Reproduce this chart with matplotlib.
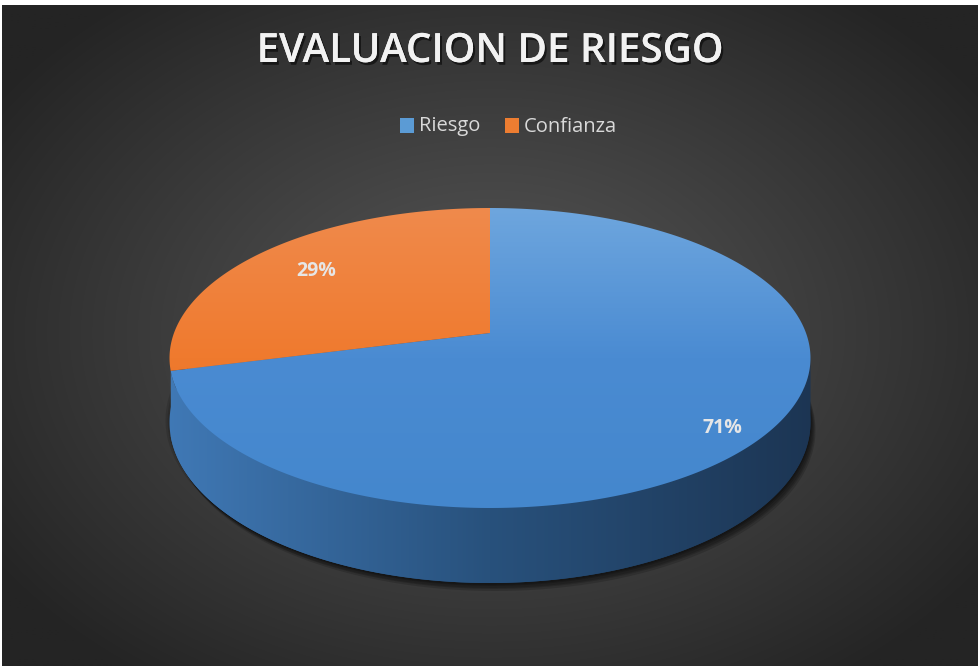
import numpy as np
import matplotlib
matplotlib.use('Agg')
import matplotlib.pyplot as plt
from matplotlib.patches import Polygon, Rectangle
import matplotlib.patheffects as pe
from matplotlib.colors import to_rgb

# ---------------- data ----------------
categories = ['Riesgo', 'Confianza']
values = [71, 29]
pct_labels = ['71%', '29%']
title_text = 'EVALUACION DE RIESGO'

# ---------------- style ----------------
top_colors = [['#6ea6de', '#4a8bd2', '#4487cd'], ['#f08a4c', '#ef7a2e', '#e6691c']]
side_colors = [['#4079b6', '#28517c', '#1c3553'], ['#c8601e', '#a04c15', '#8a3f10']]
legend_colors = ['#5b9bd5', '#ed7d31']
W, H = 979, 666
CX, CY = 490.0, 333.0
A, C, K, D0 = 90.33, -1.0 / 6.0, 316.0, 62.5

fig = plt.figure(figsize=(W / 100, H / 100), dpi=100)
fig.patch.set_facecolor('white')
ax = fig.add_axes([0, 0, 1, 1])
ax.axis('off')

# background radial gradient
yy, xx = np.mgrid[0:H, 0:W]
r = np.sqrt(((xx - 490) / 600.0) ** 2 + ((yy - 330) / 430.0) ** 2)
f = np.clip(r, 0, 1)[..., None] ** 1.1
c_in = np.array(to_rgb('#565656'))
c_out = np.array(to_rgb('#242424'))
bg = c_in * (1 - f) + c_out * f
ax.imshow(bg, extent=(2, W, H, 5), zorder=0, interpolation='bilinear', aspect='auto')


def proj(theta_deg, rr=1.0, drop=0.0):
    th = np.radians(theta_deg)
    u = rr * np.cos(th)
    t = -rr * np.sin(th)
    s = 1.0 / (1.0 + C * t)
    x = CX + K * u * s
    y = (A * t + CY) * s + drop * s
    return np.asarray(x), np.asarray(y)


def grad_fill(xy, stops, direction, rng, zorder):
    poly = Polygon(xy, closed=True, facecolor='none', edgecolor='none')
    ax.add_patch(poly)
    g = np.linspace(0, 1, 256)
    sc = np.array([to_rgb(c) for c in stops])
    pos = np.linspace(0, 1, len(stops))
    cols = np.column_stack([np.interp(g, pos, sc[:, j]) for j in range(3)])
    xs, ys = xy[:, 0], xy[:, 1]
    if direction == 'v':
        img = cols[:, None, :]
        ext = (xs.min() - 1, xs.max() + 1, rng[1], rng[0])
    else:
        img = cols[None, :, :]
        ext = (rng[0], rng[1], ys.max() + 1, ys.min() - 1)
    im = ax.imshow(img, extent=ext, zorder=zorder, interpolation='bilinear', aspect='auto')
    im.set_clip_path(poly)


# slice angle ranges (clockwise from 12 o'clock)
total = float(sum(values))
cum = np.concatenate([[0], np.cumsum(values)]) / total * 360.0
ranges = [(90.0 - cum[i + 1], 90.0 - cum[i]) for i in range(len(values))]

# visible side interval (front of the cylinder)
grid = np.linspace(90, 450, 36001)
gx, _ = proj(grid)
thL = grid[np.argmin(gx)] + 5.0
thR = grid[np.argmax(gx)]
if thR < thL:
    thR += 360

full = np.linspace(0, 360, 721)
bx, by = proj(full, 1.0, D0)

# shadow
for ox, oy in [(1, 2), (2, 3), (3, 5), (4, 6), (5, 8)]:
    ax.add_patch(Polygon(np.column_stack([bx + ox, by + oy]), closed=True,
                         facecolor='black', edgecolor='none', alpha=0.16, zorder=1))
for ox in [-2, -4]:
    ax.add_patch(Polygon(np.column_stack([bx + ox, by - 2]), closed=True,
                         facecolor='black', edgecolor='none', alpha=0.12, zorder=1))

# bottom ellipse (under side)
grad_fill(np.column_stack([bx, by]), side_colors[0], 'h', (165, 815), 2)

# side bands per slice
for i, (a0, a1) in enumerate(ranges):
    for shift in (-360, 0, 360):
        lo = max(a0 + shift, thL)
        hi = min(a1 + shift, thR)
        if hi > lo:
            th = np.linspace(lo, hi, 400)
            tx, ty = proj(th)
            dx, dy = proj(th[::-1], 1.0, D0)
            xy = np.column_stack([np.concatenate([tx, dx]), np.concatenate([ty, dy])])
            grad_fill(xy, side_colors[i], 'h', (165, 815), 3)

# top faces
for i, (a0, a1) in enumerate(ranges):
    th = np.linspace(a0, a1, 600)
    tx, ty = proj(th)
    xy = np.column_stack([np.concatenate([[CX], tx]), np.concatenate([[CY], ty])])
    grad_fill(xy, top_colors[i], 'v', (208, 508), 4)

# percentage labels
label_r = [0.85, 0.75]
label_drop = [12, 0]
for i, (a0, a1) in enumerate(ranges):
    mid = (a0 + a1) / 2
    lx, ly = proj(mid, label_r[i], 0)
    ax.text(float(lx), float(ly) + label_drop[i], pct_labels[i], ha='center', va='center',
            fontsize=14, fontweight='bold', color='#e6e6e6', family='Open Sans', zorder=6)

# title
ax.text(489.5, 52, title_text, ha='center', va='center', fontsize=29, fontweight='semibold',
        color='#f2f2f2', family='Open Sans', zorder=6,
        path_effects=[pe.withSimplePatchShadow(offset=(1.5, -2), shadow_rgbFace='black', alpha=0.55),
                      pe.Normal()])

# legend
leg_x = [400, 505]
for i, cat in enumerate(categories):
    ax.add_patch(Rectangle((leg_x[i], 118), 14, 15, facecolor=legend_colors[i],
                           edgecolor='none', zorder=6))
    ax.text(leg_x[i] + 19, 126.5, cat, ha='left', va='center', fontsize=14.5,
            color='#d9d9d9', family='Open Sans', zorder=6)

ax.set_xlim(0, W)
ax.set_ylim(H, 0)
fig.savefig('out.png', dpi=100, facecolor=fig.get_facecolor())
